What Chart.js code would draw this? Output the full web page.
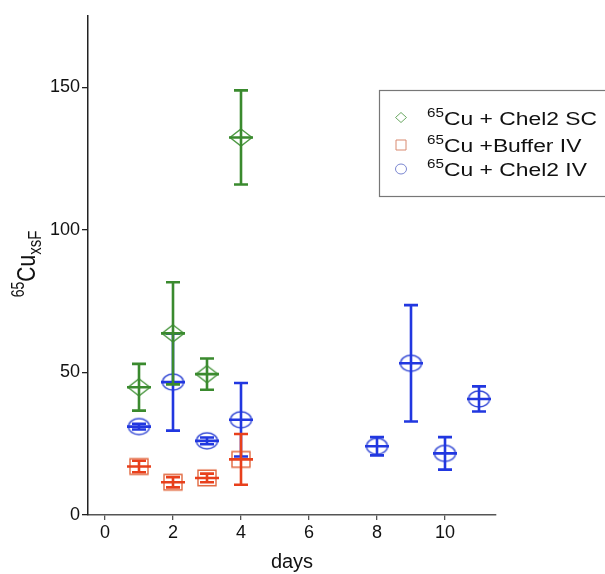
<!DOCTYPE html>
<html>
<head>
<meta charset="utf-8">
<script src="https://cdn.jsdelivr.net/npm/chart.js@4/dist/chart.umd.min.js"></script>
<style>
  html, body { margin: 0; padding: 0; background: #fff; }
  #wrap { width: 605px; height: 574px; position: relative; }
</style>
</head>
<body>
<div id="wrap"><canvas id="chart"></canvas></div>
<script>
// days, means and +/- error
const scDays = [1, 2, 3, 4];
const scMean = [44.8, 63.7, 49.4, 132.4];
const scErr = [8.2, 17.9, 5.5, 16.5];

const bufDays = [1, 2, 3, 4];
const bufMean = [17.0, 11.5, 13.0, 19.5];
const bufErr = [2.0, 1.8, 1.5, 8.9];

const ivDays = [1, 2, 3, 4, 8, 9, 10, 11];
const ivMean = [31.0, 46.6, 26.0, 33.4, 24.1, 53.2, 21.6, 40.7];
const ivErr = [1.0, 17.0, 1.2, 12.9, 3.2, 20.4, 5.7, 4.4];

const xTicks = [0, 2, 4, 6, 8, 10];
const yTicks = [0, 50, 100, 150];

const seriesNames = ["Cu + Chel2 SC", "Cu +Buffer IV", "Cu + Chel2 IV"];

const FONT = "'Liberation Sans', Arial, sans-serif";
const STRETCH = 1.25; // the original figure is stretched sideways

function toPoints(days, mean, err) {
  return days.map((d, i) => ({ x: d, y: mean[i], err: err[i] }));
}

// wide, flattened open markers like in the figure
function marker(shape, w, h, color) {
  const c = document.createElement("canvas");
  c.width = Math.ceil(w + 4);
  c.height = Math.ceil(h + 4);
  const g = c.getContext("2d");
  const cx = c.width / 2, cy = c.height / 2;
  g.strokeStyle = color;
  g.lineWidth = 1.4;
  g.beginPath();
  if (shape === "diamond") {
    g.moveTo(cx, cy - h / 2); g.lineTo(cx + w / 2, cy);
    g.lineTo(cx, cy + h / 2); g.lineTo(cx - w / 2, cy); g.closePath();
  } else if (shape === "square") {
    g.rect(cx - w / 2, cy - h / 2, w, h);
  } else {
    g.ellipse(cx, cy, w / 2, h / 2, 0, 0, Math.PI * 2);
  }
  g.stroke();
  return c;
}

/* ==============================
   ERROR BARS (drawn per dataset)
============================== */
const errorBars = {
  id: "errorBars",
  afterDatasetDraw(chart, args) {
    const ds = chart.data.datasets[args.index];
    const { ctx, scales: { x, y } } = chart;
    ctx.save();
    ctx.strokeStyle = ds.barColor;
    ctx.lineWidth = 2.6;
    ds.data.forEach(p => {
      const px = x.getPixelForValue(p.x);
      const pm = y.getPixelForValue(p.y);
      const ph = y.getPixelForValue(p.y + p.err);
      const pl = y.getPixelForValue(p.y - p.err);
      ctx.beginPath();
      ctx.moveTo(px, ph); ctx.lineTo(px, pl);
      ctx.moveTo(px - 7, ph); ctx.lineTo(px + 7, ph);
      ctx.moveTo(px - 7, pl); ctx.lineTo(px + 7, pl);
      ctx.moveTo(px - 12, pm); ctx.lineTo(px + 12, pm);
      ctx.stroke();
    });
    ctx.restore();
  }
};

/* ==============================
   Y TITLE + LEGEND (sup/sub text)
============================== */
function drawRich(ctx, x, y, parts) {
  let cx = x;
  parts.forEach(([txt, size, dy]) => {
    ctx.font = `${size}px ${FONT}`;
    ctx.fillText(txt, cx, y + dy);
    cx += ctx.measureText(txt).width;
  });
}

function richWidth(ctx, parts) {
  return parts.reduce((sum, [txt, size]) => {
    ctx.font = `${size}px ${FONT}`;
    return sum + ctx.measureText(txt).width;
  }, 0);
}

const extras = {
  id: "extras",
  afterDraw(chart) {
    const { ctx } = chart;
    ctx.save();
    ctx.fillStyle = "#111";
    ctx.textBaseline = "alphabetic";

    // y axis title, rotated
    const title = [["65", 14, -9], ["Cu", 21, 0], ["xsF", 15, 5]];
    ctx.save();
    ctx.translate(35, 264);
    ctx.scale(STRETCH, 1);
    ctx.rotate(-Math.PI / 2);
    drawRich(ctx, -richWidth(ctx, title) / 2, 0, title);
    ctx.restore();

    // legend box
    ctx.strokeStyle = "#777";
    ctx.lineWidth = 1.2;
    ctx.strokeRect(379.5, 90.5, 240, 106);

    const rows = [117.5, 145, 169];
    chart.data.datasets.forEach((ds, i) => {
      const ly = rows[i];
      ctx.strokeStyle = ds.legendColor;
      ctx.lineWidth = 1;
      ctx.beginPath();
      if (i === 0) {
        ctx.moveTo(401, ly - 5); ctx.lineTo(406.5, ly);
        ctx.lineTo(401, ly + 5); ctx.lineTo(395.5, ly); ctx.closePath();
      } else if (i === 1) {
        ctx.rect(396, ly - 5, 10, 10);
      } else {
        ctx.ellipse(401, ly, 5.5, 5, 0, 0, Math.PI * 2);
      }
      ctx.stroke();
      ctx.fillStyle = "#111";
      ctx.save();
      ctx.translate(427, ly + 7);
      ctx.scale(1.27, 1);
      drawRich(ctx, 0, 0, [["65", 12, -8], [seriesNames[i], 18, 0]]);
      ctx.restore();
    });
    ctx.restore();
  }
};

const ctx = document.getElementById("chart").getContext("2d");

new Chart(ctx, {
  type: "scatter",
  data: {
    datasets: [
      {
        label: seriesNames[0],
        data: toPoints(scDays, scMean, scErr),
        pointStyle: marker("diamond", 22, 17, "#4f9a45"),
        legendColor: "#6aa862",
        barColor: "#3a8a2e"
      },
      {
        label: seriesNames[1],
        data: toPoints(bufDays, bufMean, bufErr),
        pointStyle: marker("square", 18, 15.5, "#e2683f"),
        legendColor: "#d98a70",
        barColor: "#e8401c"
      },
      {
        label: seriesNames[2],
        data: toPoints(ivDays, ivMean, ivErr),
        pointStyle: marker("circle", 21, 16, "#3a4ed6"),
        legendColor: "#7a86d0",
        barColor: "#2137e0"
      }
    ]
  },
  options: {
    responsive: true,
    maintainAspectRatio: false,
    animation: false,
    events: [],
    layout: { padding: { top: 16, right: 109, left: 0, bottom: 0 } },
    plugins: {
      legend: { display: false },
      tooltip: { enabled: false }
    },
    scales: {
      x: {
        type: "linear",
        min: -0.5,
        max: 11.5,
        afterBuildTicks: s => { s.ticks = xTicks.map(v => ({ value: v })); },
        afterFit: s => { s.height = 59; },
        grid: { drawOnChartArea: false, tickLength: 5, color: "#555", lineWidth: 1.3 },
        border: { color: "#555", width: 1.5 },
        ticks: { color: "#111", font: { family: FONT, size: 18 }, padding: 2, maxRotation: 0 },
        title: {
          display: true,
          text: "days",
          color: "#111",
          font: { family: FONT, size: 20 },
          padding: { top: 0, bottom: 0 }
        }
      },
      y: {
        type: "linear",
        min: 0,
        max: 175,
        afterBuildTicks: s => { s.ticks = yTicks.map(v => ({ value: v })); },
        afterFit: s => { s.width = 88; },
        grid: { drawOnChartArea: false, tickLength: 6, color: "#222", lineWidth: 1.3 },
        border: { color: "#222", width: 1.5 },
        ticks: { color: "#111", font: { family: FONT, size: 18 }, padding: 2 }
      }
    }
  },
  plugins: [errorBars, extras]
});
</script>
</body>
</html>
